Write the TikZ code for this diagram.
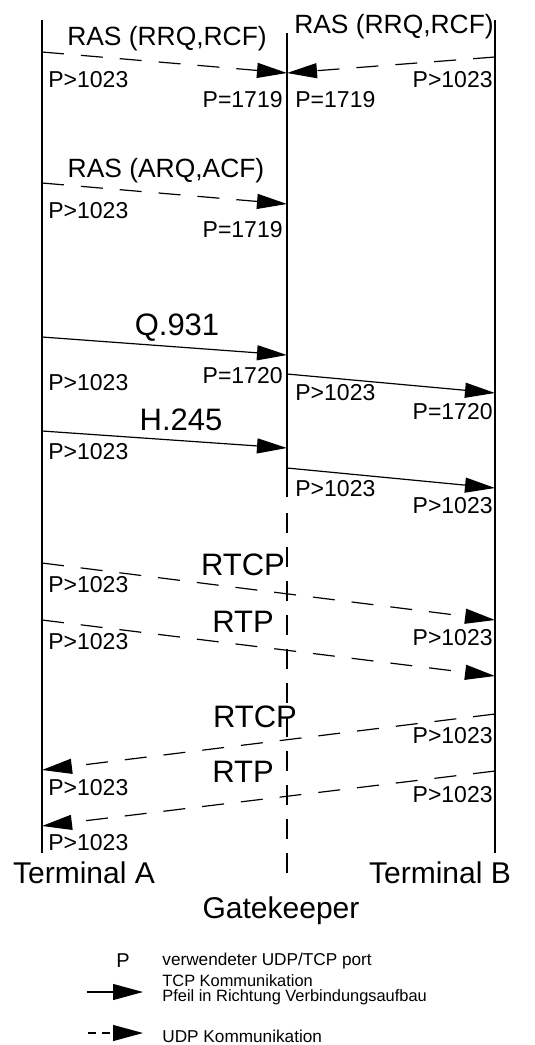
\documentclass[tikz,border=0pt]{standalone}
\usepackage{fontspec}
\setmainfont{Liberation Sans}
\usetikzlibrary{arrows.meta}

\tikzset{
  life/.style={line width=0.6pt},
  tcp/.style={line width=0.6pt, -{Triangle[length=15pt,width=7.5pt]}},
  udp/.style={tcp, dash pattern=on 11pt off 8.5pt},
  port/.style={font=\fontsize{11.5}{13}\selectfont, inner sep=0pt},
  ras/.style={font=\fontsize{13.2}{15}\selectfont, inner sep=0pt, anchor=base},
  proto/.style={font=\fontsize{15.5}{18}\selectfont, inner sep=0pt, anchor=base},
  role/.style={font=\fontsize{15}{18}\selectfont, inner sep=0pt, anchor=base},
  legend/.style={font=\fontsize{8.6}{10}\selectfont, inner sep=0pt, anchor=base west}
}

\begin{document}
\begin{tikzpicture}[x=0.5pt, y=-0.5pt]
\useasboundingbox (0,0) rectangle (535,1045);

% lifelines
\coordinate (ta) at (42,20);
\coordinate (gk) at (287,33);
\coordinate (tb) at (495,20);
\coordinate (ta end) at (42,853);
\coordinate (gk mid) at (287,497);
\coordinate (gk dash) at (287,513);
\coordinate (gk end) at (287,885);
\coordinate (tb end) at (495,853);
\draw[life] (ta) -- (ta end);
\draw[life] (tb) -- (tb end);
\draw[life] (gk) -- (gk mid);
\draw[life, dash pattern=on 10pt off 7pt] (gk dash) -- (gk end);

% RAS registration
\draw[udp] (ta |- 0,52) -- (gk |- 0,73);
\draw[udp] (tb |- 0,57) -- (gk |- 0,73);
\node (rrqA) [ras] at (167,45) {RAS (RRQ,RCF)};
\node (rrqB) [ras] at (394,33) {RAS (RRQ,RCF)};
\node (p1a) [port, anchor=base west] at (48,87) {P>1023};
\node (p1b) [port, anchor=base east] at (283,107) {P=1719};
\node (p2a) [port, anchor=base west] at (295,107) {P=1719};
\node (p2b) [port, anchor=base east] at (493,87) {P>1023};

% RAS admission
\draw[udp] (ta |- 0,183) -- (gk |- 0,204);
\node (arq) [ras] at (166,177) {RAS (ARQ,ACF)};
\node (p3a) [port, anchor=base west] at (48,218) {P>1023};
\node (p3b) [port, anchor=base east] at (283,237) {P=1719};

% Q.931
\draw[tcp] (ta |- 0,337) -- (gk |- 0,355);
\draw[tcp] (gk |- 0,374) -- (tb |- 0,393);
\node (q931) [proto] at (177,335) {Q.931};
\node (p4a) [port, anchor=base west] at (48,390) {P>1023};
\node (p4b) [port, anchor=base east] at (283,383) {P=1720};
\node (p5a) [port, anchor=base west] at (295,400) {P>1023};
\node (p5b) [port, anchor=base east] at (493,419) {P=1720};

% H.245
\draw[tcp] (ta |- 0,431) -- (gk |- 0,448);
\draw[tcp] (gk |- 0,468) -- (tb |- 0,488);
\node (h245) [proto] at (181,430) {H.245};
\node (p6a) [port, anchor=base west] at (48,459) {P>1023};
\node (p7a) [port, anchor=base west] at (295,496) {P>1023};
\node (p7b) [port, anchor=base east] at (493,513) {P>1023};

% media A -> B
\draw[udp] (ta |- 0,563) -- (tb |- 0,620);
\draw[udp] (ta |- 0,620) -- (tb |- 0,676);
\node (rtcpA) [proto] at (243,575) {RTCP};
\node (rtpA) [proto] at (243,632) {RTP};
\node (p8a) [port, anchor=base west] at (48,592) {P>1023};
\node (p8b) [port, anchor=base east] at (493,645) {P>1023};
\node (p9a) [port, anchor=base west] at (48,649) {P>1023};

% media B -> A
\draw[udp] (tb |- 0,714) -- (ta |- 0,770);
\draw[udp] (tb |- 0,771) -- (ta |- 0,826);
\node (rtcpB) [proto] at (255,727) {RTCP};
\node (rtpB) [proto] at (243,782) {RTP};
\node (p10b) [port, anchor=base east] at (493,743) {P>1023};
\node (p10a) [port, anchor=base west] at (48,795) {P>1023};
\node (p11b) [port, anchor=base east] at (493,802) {P>1023};
\node (p11a) [port, anchor=base west] at (48,850) {P>1023};

% roles
\node (termA) [role] at (84,883) {Terminal A};
\node (termB) [role] at (440,883) {Terminal B};
\node (keeper) [role] at (281,918) {Gatekeeper};

% legend
\node (keyP) [legend, anchor=base, font=\fontsize{10}{12}\selectfont] at (123,967) {P};
\node (keyPtxt) [legend] at (162,965) {verwendeter UDP/TCP port};
\coordinate (tcp from) at (87,992);
\coordinate (tcp to) at (143,992);
\draw[tcp, -{Triangle[length=15pt,width=8pt]}] (tcp from) -- (tcp to);
\node (keyTcp) [legend, font=\fontsize{8.2}{10}\selectfont] at (162,986) {TCP Kommunikation};
\node (keyDir) [legend, font=\fontsize{8.2}{10}\selectfont] at (162,1001) {Pfeil in Richtung Verbindungsaufbau};
\coordinate (udp from) at (88,1033);
\coordinate (udp to) at (143,1033);
\draw[tcp, -{Triangle[length=15pt,width=8pt]}, dash pattern=on 4pt off 3pt] (udp from) -- (udp to);
\node (keyUdp) [legend] at (162,1042) {UDP Kommunikation};
\end{tikzpicture}
\end{document}
